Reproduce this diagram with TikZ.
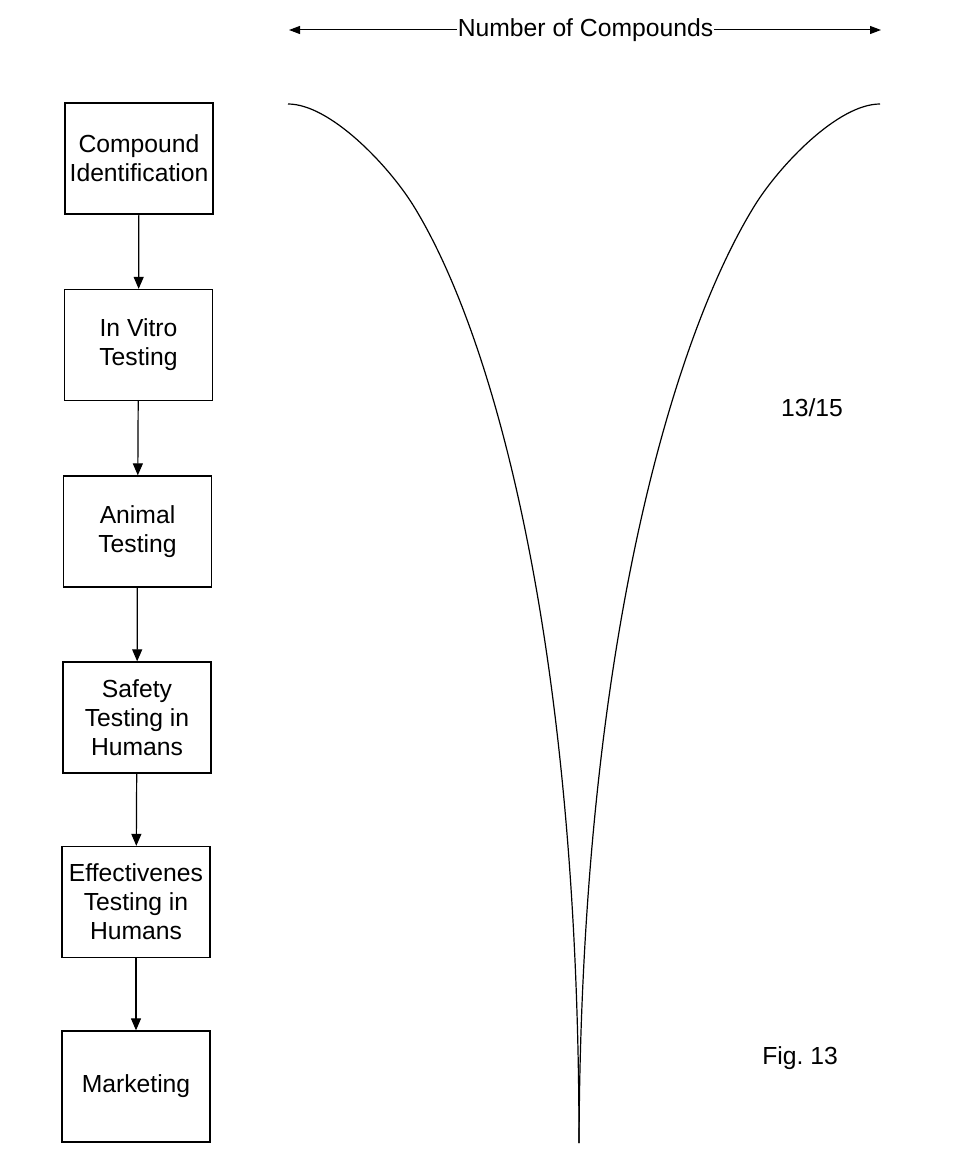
\documentclass[tikz,border=0pt]{standalone}
\usepackage{fontspec}
\setmainfont{Liberation Sans}
\usepackage{tikz}
\usetikzlibrary{arrows.meta}

\begin{document}
\begin{tikzpicture}[x=1pt, y=-1pt, font=\fontsize{24.7}{29}\selectfont,
	stage/.style={draw, line width=1.3pt, minimum width=148pt, minimum height=111pt, inner sep=0pt, align=center},
	flow/.style={-{Triangle[length=12pt, width=10pt]}, line width=1.2pt},
	axis/.style={-{Triangle[length=11pt, width=8pt]}, line width=1pt}]
				\begin{scope}
					\useasboundingbox (0,0) rectangle (960,1166);

					\node[stage] (ident) at (139, 158.5) {Compound\\Identification};
					\node[stage] (vitro) at (138.5, 345) {In Vitro\\Testing};
					\node[stage] (animal) at (137.5, 531.5) {Animal\\Testing};
					\node[stage] (safety) at (137, 717.5) {Safety\\Testing in\\Humans};
					\node[stage] (effect) at (136, 902) {Effectivenes\\Testing in\\Humans};
					\node[stage] (market) at (136, 1086.5) {Marketing};

					\draw[flow] (ident) -- (vitro); % 1 to 2
					\draw[flow] (vitro) -- (animal); % 2 to 3
					\draw[flow] (animal) -- (safety); % 3 to 4
					\draw[flow] (safety) -- (effect); % 4 to 5
					\draw[flow] (effect) -- (market); % 5 to 6

					\node[inner sep=1pt] (count) at (585.5, 30) {Number of Compounds};
					\coordinate (countL) at (289, 30);
					\coordinate (countR) at (881, 30);
					\draw[axis] (count.west) -- (countL);
					\draw[axis] (count.east) -- (countR);

					% funnel, left and right branch
					\coordinate (tipL) at (288,104);
					\coordinate (tipR) at (880,104);
					\coordinate (neck) at (579,1143);
					\draw[line width=1.2pt] (tipL) .. controls (330,104) and (388,165) .. (413,205)
						.. controls (493.6,335) and (579,643) .. (neck);
					\draw[line width=1.2pt] (tipR) .. controls (838,104) and (780,165) .. (755,205)
						.. controls (674.4,335) and (581,643) .. (neck);

					\node (sheet) at (812, 408) {13/15};
					\node (fig) at (800, 1058) {Fig.\ 13};
				\end{scope}
			\end{tikzpicture}
\end{document}
